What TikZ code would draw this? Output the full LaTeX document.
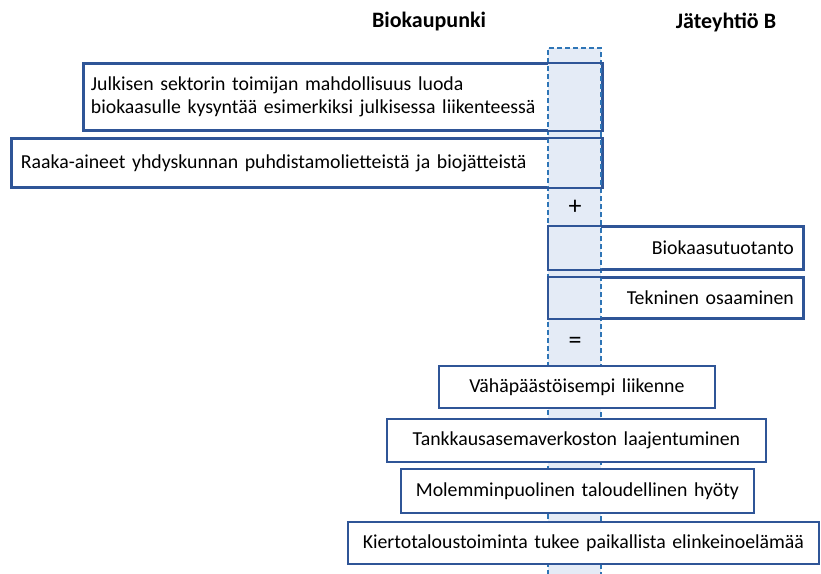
\documentclass[tikz,border=0pt]{standalone}
\usepackage{fontspec}
\setmainfont{Carlito}
\definecolor{boxblue}{HTML}{2F5597}
\definecolor{colfill}{HTML}{E4EBF6}
\definecolor{coldash}{HTML}{2E75B6}
\begin{document}
\begin{tikzpicture}[x=1pt,y=-1pt,
  box/.style={draw=boxblue, line width=1.8pt, fill=white, anchor=north west, inner ysep=0pt, font=\fontsize{19.8}{23.5}\selectfont},
  boxl/.style={box, align=left},
  boxc/.style={box, align=center},
  boxr/.style={box, align=right},
  header/.style={font=\fontsize{22}{24}\selectfont\bfseries},
  sym/.style={font=\fontsize{26}{28}\selectfont}]
\useasboundingbox (0,0) rectangle (821,573);
% upper boxes (fill)
\node[boxl, inner xsep=7pt, text width=504pt, minimum height=66pt] (b1) at (83,63)
  {Julkisen sektorin toimijan mahdollisuus luoda\\biokaasulle kysyntää esimerkiksi julkisessa liikenteessä};
\node[boxl, inner xsep=9pt, text width=572pt, minimum height=48pt] (b2) at (11,138)
  {Raaka-aineet yhdyskunnan puhdistamolietteistä ja biojätteistä};
\node[boxr, inner xsep=9pt, text width=236pt, minimum height=42pt] (b3) at (548,226)
  {Biokaasutuotanto};
\node[boxr, inner xsep=9pt, text width=236pt, minimum height=40pt] (b4) at (548,277)
  {Tekninen osaaminen};
% column
\fill[colfill] (548,48) rectangle (601,575);
\draw[coldash, line width=1.6pt, dash pattern=on 5pt off 3pt] (548,575) -- (548,48) -- (601,48) -- (601,575);
% redraw borders of upper boxes
\foreach \b in {b1,b2,b3,b4} \draw[boxblue, line width=1.8pt] (\b.north west) rectangle (\b.south east);
% plus and equals
\node[sym] (plus) at (575,207) {+};
\node[sym] (eq) at (575,343) {=};
% lower boxes
\node[boxc, inner xsep=0pt, text width=276pt, minimum height=42pt] (b5) at (438,365)
  {Vähäpäästöisempi liikenne};
\node[boxc, inner xsep=0pt, text width=379pt, minimum height=43pt] (b6) at (386,418)
  {Tankkausasemaverkoston laajentuminen};
\node[boxc, inner xsep=0pt, text width=353pt, minimum height=44pt] (b7) at (400,468)
  {Molemminpuolinen taloudellinen hyöty};
\node[boxc, inner xsep=0pt, text width=471pt, minimum height=42pt] (b8) at (347,521)
  {Kiertotaloustoiminta tukee paikallista elinkeinoelämää};
% headers
\node[header] (h1) at (429,22) {Biokaupunki};
\node[header] (h2) at (726,22) {Jäteyhtiö B};
\end{tikzpicture}
\end{document}
